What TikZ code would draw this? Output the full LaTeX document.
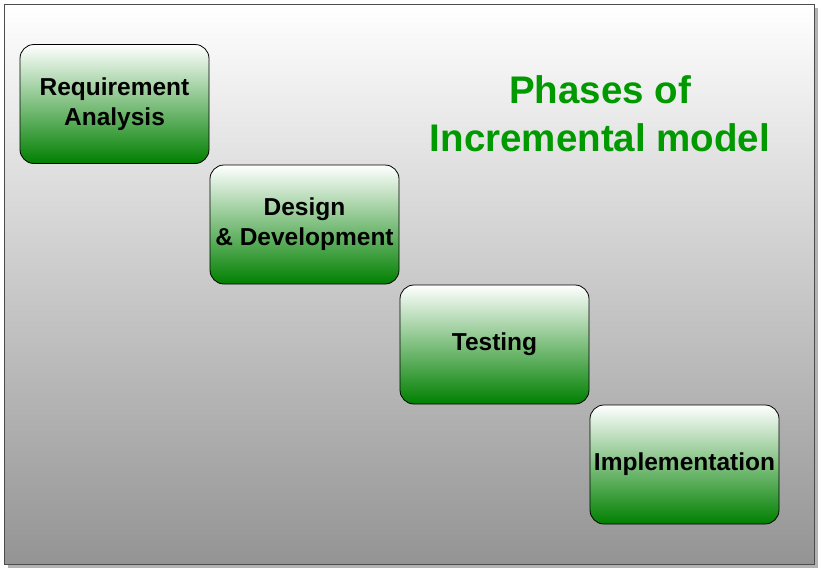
\documentclass[tikz,border=0pt]{standalone}
\usepackage{fontspec}
\setmainfont{Liberation Sans}
\begin{document}
\begin{tikzpicture}[x=1pt,y=-1pt,
  phase/.style={draw=black,line width=0.8pt,rounded corners=14pt,top color=white,bottom color=green!50!black,minimum width=189pt,minimum height=119pt,align=center,font=\bfseries\fontsize{24.5}{30}\selectfont,inner sep=1pt}]
\useasboundingbox (0,0) rectangle (822,573);
\fill[gray!60] (8,8) rectangle (818,568);
\shade[top color=white,bottom color=black!42,draw=black!70,line width=0.6pt] (4,4) rectangle (814,564);
\node[phase] (a) at (114.5,104) {Requirement\\Analysis};
\node[phase] (b) at (304.5,224.5) {Design\\\& Development};
\node[phase] (c) at (494.5,344.5) {Testing};
\node[phase] (d) at (684.5,464.5) {Implementation};
\node[align=center,text=green!60!black,font=\bfseries\fontsize{38.5}{48}\selectfont] (t) at (600,114) {Phases of\\Incremental model};
\end{tikzpicture}
\end{document}
